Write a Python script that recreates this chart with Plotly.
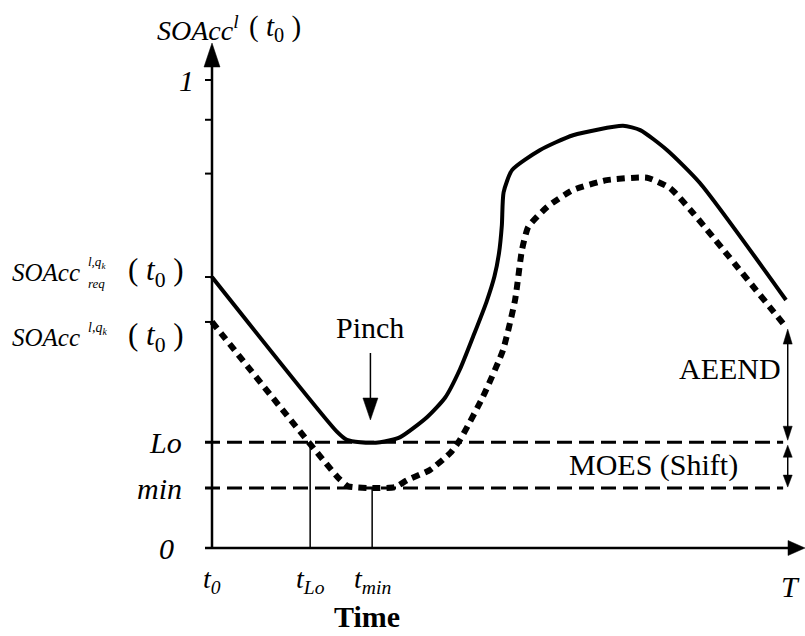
import plotly.graph_objects as go

# ---------------- data (time normalised t0=0 .. T=1, SOAcc 0..1) ----------------
solid_t = [0.0, 0.218, 0.235, 0.258, 0.293, 0.328, 0.375, 0.406, 0.432, 0.455, 0.478,
           0.492, 0.500, 0.505, 0.508, 0.523, 0.571, 0.629, 0.716, 0.746, 0.793, 0.850, 1.0]
solid_v = [0.579, 0.248, 0.231, 0.226, 0.226, 0.237, 0.280, 0.321, 0.382, 0.452, 0.525,
           0.580, 0.630, 0.690, 0.760, 0.808, 0.850, 0.882, 0.902, 0.893, 0.850, 0.780, 0.530]

dot_t = [0.0, 0.220, 0.237, 0.279, 0.319, 0.340, 0.380, 0.415, 0.432, 0.472, 0.507,
         0.528, 0.540, 0.551, 0.584, 0.629, 0.688, 0.758, 0.798, 0.838, 1.0]
dot_v = [0.483, 0.150, 0.132, 0.128, 0.130, 0.145, 0.167, 0.203, 0.231, 0.323, 0.423,
         0.530, 0.637, 0.686, 0.729, 0.765, 0.786, 0.791, 0.769, 0.716, 0.472]

LO = 0.226
MIN = 0.128
T_LO = 0.171
T_MIN = 0.279
T_END = 1.0
y_minor_ticks = [1.0, 0.915, 0.80]

# ---------------- layout geometry (pixel mapping) ----------------
W, H = 805, 636
X0_PX, XS = 212, 574     # pixel of t0, pixels per time unit
Y0_PX, YS = 548, 468     # pixel of 0, pixels per SOAcc unit


def px2x(px):
    return (px - X0_PX) / XS


def px2y(py):
    return (Y0_PX - py) / YS


FONT = "Liberation Serif, Times New Roman, Times, serif"
shapes = []
annotations = []


def seg(x0, y0, x1, y1, w=1.5):
    shapes.append(dict(type="line", xref="x", yref="y", x0=x0, y0=y0, x1=x1, y1=y1,
                       line=dict(color="black", width=w)))


def head(x, y, direction, length, width):
    L = length
    hw = width / 2
    if direction == "up":
        yb = y - L / YS
        p = f"M {x},{y} L {x - hw / XS},{yb} L {x + hw / XS},{yb} Z"
    elif direction == "down":
        yb = y + L / YS
        p = f"M {x},{y} L {x - hw / XS},{yb} L {x + hw / XS},{yb} Z"
    else:  # right
        xb = x - L / XS
        p = f"M {x},{y} L {xb},{y - hw / YS} L {xb},{y + hw / YS} Z"
    shapes.append(dict(type="path", xref="x", yref="y", path=p,
                       fillcolor="black", line=dict(color="black", width=0.5)))


def label(x, y, text, size=28, xanchor="center", yanchor="middle"):
    annotations.append(dict(x=x, y=y, xref="x", yref="y", text=text, showarrow=False,
                            xanchor=xanchor, yanchor=yanchor,
                            font=dict(family=FONT, size=size, color="black")))


fig = go.Figure()

# horizontal dashed Lo / min lines
for lvl in (LO, MIN):
    fig.add_trace(go.Scatter(x=[px2x(205), T_END - 0.005], y=[lvl, lvl], mode="lines",
                             line=dict(color="black", width=3, dash="15px,7px"),
                             hoverinfo="skip", showlegend=False))

# vertical marker lines at tLo and tmin
fig.add_trace(go.Scatter(x=[T_LO, T_LO], y=[0, LO], mode="lines",
                         line=dict(color="black", width=1.5), showlegend=False))
fig.add_trace(go.Scatter(x=[T_MIN, T_MIN], y=[0, MIN], mode="lines",
                         line=dict(color="black", width=1.5), showlegend=False))

# curves
fig.add_trace(go.Scatter(x=solid_t, y=solid_v, mode="lines",
                         line=dict(color="black", width=4, shape="spline", smoothing=0.6),
                         showlegend=False))
fig.add_trace(go.Scatter(x=dot_t, y=dot_v, mode="lines",
                         line=dict(color="black", width=6, shape="spline", smoothing=0.5,
                                   dash="8px,6px"),
                         showlegend=False))

# axes
seg(0, 0, 0, px2y(60), 2.5)
head(0, px2y(43), "up", 24, 16)
seg(px2x(205), 0, px2x(792), 0, 2.5)
head(px2x(805), 0, "right", 17, 15)

# y ticks
for v in y_minor_ticks + [solid_v[0], dot_v[0]]:
    seg(px2x(205), v, 0, v, 2)

# Pinch arrow
seg(T_MIN - 0.003, px2y(353), T_MIN - 0.003, px2y(400), 1.5)
head(T_MIN - 0.003, px2y(420), "down", 22, 15)
label(T_MIN - 0.003, px2y(327), "Pinch", 30)

# AEEND and MOES arrows
xa = T_END + 0.003
seg(xa, dot_v[-1] - 10 / YS, xa, LO + 10 / YS, 1.5)
head(xa, dot_v[-1] - 2 / YS, "up", 15, 9)
head(xa, LO + 2 / YS, "down", 14, 9)
seg(xa, LO - 8 / YS, xa, MIN + 8 / YS, 1.5)
head(xa, LO - 3 / YS, "up", 12, 9)
head(xa, MIN + 1 / YS, "down", 12, 9)
label(px2x(783), px2y(368), "AEEND", 30, xanchor="right")
label(px2x(740), (LO + MIN) / 2, "MOES (Shift)", 30, xanchor="right")

# y labels
label(px2x(186), 1.0, "<i>1</i>", 30)
label(px2x(184), LO, "<i>Lo</i>", 30, xanchor="right")
label(px2x(184), MIN, "<i>min</i>", 30, xanchor="right")
label(px2x(166), 0, "<i>0</i>", 30)

# left long labels
label(px2x(10), px2y(272), "<i>SOAcc</i>", 25, xanchor="left")
label(px2x(86), px2y(262), "<i>l,q<sub>k</sub></i>", 13, xanchor="left")
label(px2x(86), px2y(283), "<i>req</i>", 13, xanchor="left")
label(px2x(186), px2y(272), "( <i>t</i><sub>0</sub> )", 31, xanchor="right")

label(px2x(10), px2y(337), "<i>SOAcc</i>", 25, xanchor="left")
label(px2x(86), px2y(328), "<i>l,q<sub>k</sub></i>", 14, xanchor="left")
label(px2x(186), px2y(337), "( <i>t</i><sub>0</sub> )", 31, xanchor="right")

# top axis title
label(px2x(155), px2y(28), "<i>SOAcc<sup>l</sup></i>", 28, xanchor="left")
label(px2x(303), px2y(28), "( <i>t</i><sub>0</sub> )", 29, xanchor="right")

# x labels
label(0, px2y(580), "<i>t</i><sub><i>0</i></sub>", 28)
label(T_LO, px2y(580), "<i>t</i><sub><i>Lo</i></sub>", 28)
label(T_MIN, px2y(580), "<i>t</i><sub><i>min</i></sub>", 28)
label(px2x(790), px2y(586), "<i>T</i>", 30)
label(px2x(367), px2y(616), "<b>Time</b>", 30)

fig.update_layout(
    width=W, height=H,
    margin=dict(l=0, r=0, t=0, b=0, autoexpand=False),
    paper_bgcolor="white", plot_bgcolor="white",
    xaxis=dict(range=[px2x(0), px2x(W)], visible=False, fixedrange=True),
    yaxis=dict(range=[px2y(H), px2y(0)], visible=False, fixedrange=True),
    shapes=shapes, annotations=annotations, showlegend=False,
)

fig.write_html("out.html")
